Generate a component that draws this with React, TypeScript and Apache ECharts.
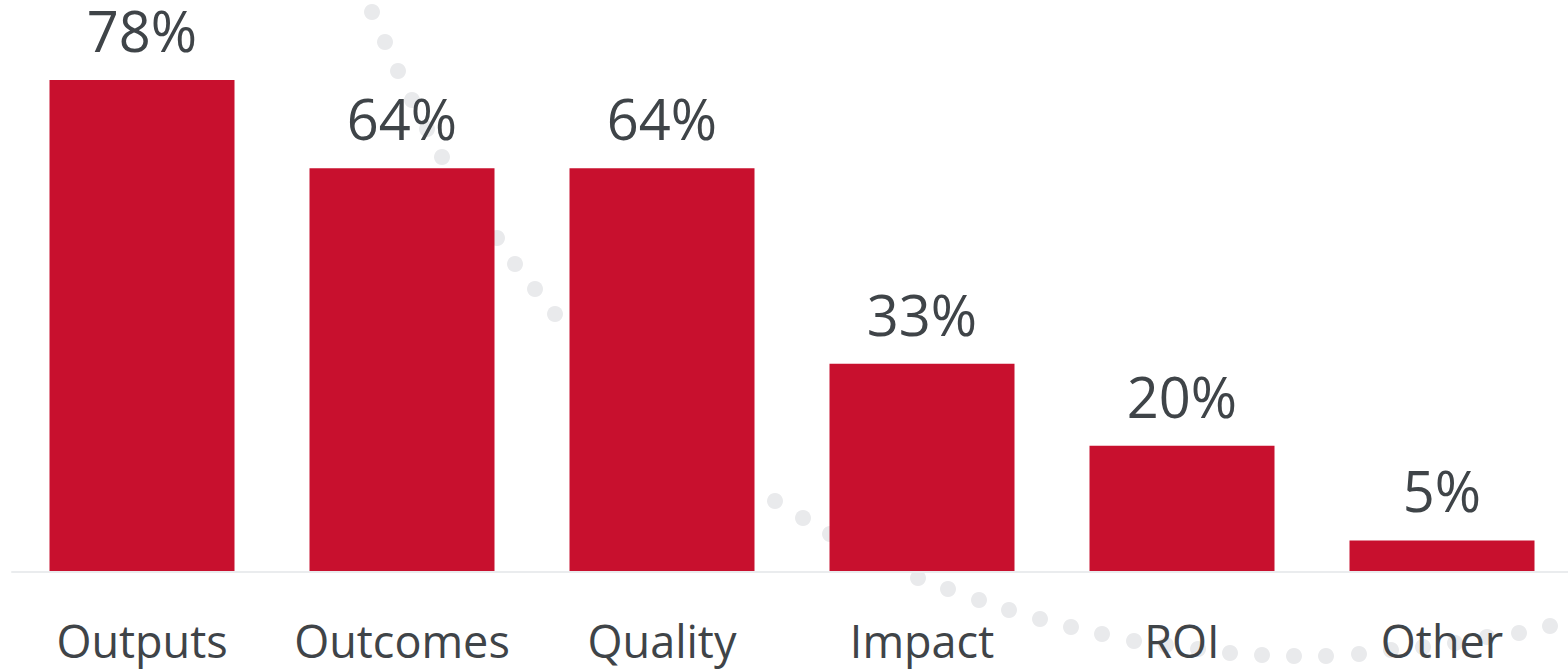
import React, { useEffect, useRef } from "react";
import * as echarts from "echarts";

const categories = ["Outputs", "Outcomes", "Quality", "Impact", "ROI", "Other"];
const values = [78, 64, 64, 33, 20, 5];

// decorative dotted swoosh (pixel positions, purely ornamental)
const decorDots: [number, number][] = [
  [372, 12], [385, 42], [398, 71], [412, 100], [427, 129], [442, 157],
  [458, 184], [476, 211], [497, 238], [515, 264], [535, 289], [555, 314],
  [775, 501], [803, 518], [830, 534], [859, 550], [888, 564],
  [918, 578], [948, 589], [979, 600], [1009, 610], [1040, 619], [1071, 627],
  [1102, 634], [1134, 641], [1166, 645], [1198, 649], [1230, 653], [1262, 655],
  [1294, 656], [1326, 656], [1359, 654], [1391, 650], [1423, 647], [1455, 643],
  [1487, 637], [1519, 633], [1550, 626],
];

export default function App() {
  const ref = useRef<HTMLDivElement>(null);
  useEffect(() => {
    if (!ref.current) return;
    const chart = echarts.init(ref.current, null, { renderer: "svg" });
    chart.setOption({
      animation: false,
      backgroundColor: "#ffffff",
      textStyle: { fontFamily: "Open Sans" },
      grid: { left: 12, right: 8, top: 80, bottom: 97, containLabel: false },
      graphic: decorDots.map(([x, y]) => ({
        type: "circle",
        shape: { cx: x, cy: y, r: 8 },
        style: { fill: "#e9eaec" },
        z: 0,
        silent: true,
      })),
      xAxis: {
        type: "category",
        data: categories,
        axisTick: { show: false },
        axisLine: { show: true, lineStyle: { color: "#eaecee", width: 2 } },
        axisLabel: {
          color: "#3f4448",
          fontSize: 45,
          lineHeight: 45,
          fontFamily: "Open Sans",
          margin: 46,
          interval: 0,
        },
        z: 3,
      },
      yAxis: {
        type: "value",
        min: 0,
        max: 78,
        show: false,
        splitLine: { show: false },
      },
      series: [
        {
          type: "bar",
          data: values,
          barWidth: 185,
          itemStyle: { color: "#c8102e" },
          z: 2,
          label: {
            show: true,
            position: "top",
            distance: 28,
            lineHeight: 44,
            formatter: "{c}%",
            color: "#3f4448",
            fontSize: 56,
            fontFamily: "Open Sans",
          },
        },
      ],
    });
    return () => chart.dispose();
  }, []);
  return (
    <div style={{ position: "absolute", left: 0, top: 0, width: 1568, height: 669, overflow: "hidden" }}>
      <div ref={ref} style={{ width: 1580, height: 669 }} />
    </div>
  );
}
